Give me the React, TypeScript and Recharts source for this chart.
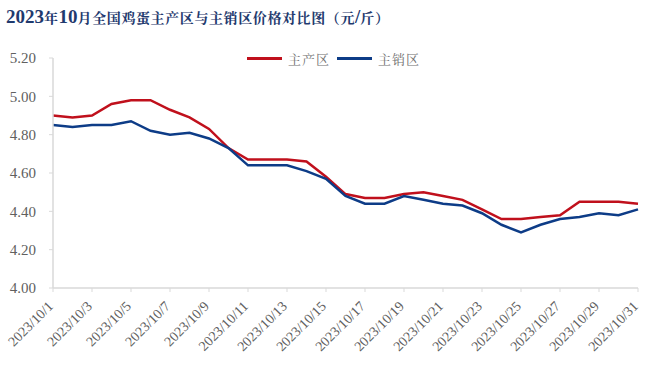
import { Line, LineChart, XAxis, YAxis } from "recharts";

const days = [
  "2023/10/1", "2023/10/2", "2023/10/3", "2023/10/4", "2023/10/5", "2023/10/6", "2023/10/7",
  "2023/10/8", "2023/10/9", "2023/10/10", "2023/10/11", "2023/10/12", "2023/10/13", "2023/10/14",
  "2023/10/15", "2023/10/16", "2023/10/17", "2023/10/18", "2023/10/19", "2023/10/20", "2023/10/21",
  "2023/10/22", "2023/10/23", "2023/10/24", "2023/10/25", "2023/10/26", "2023/10/27", "2023/10/28",
  "2023/10/29", "2023/10/30", "2023/10/31"
];

const producing = [
  4.9, 4.89, 4.9, 4.96, 4.98, 4.98, 4.93, 4.89, 4.83, 4.73, 4.67, 4.67, 4.67, 4.66, 4.58, 4.49,
  4.47, 4.47, 4.49, 4.5, 4.48, 4.46, 4.41, 4.36, 4.36, 4.37, 4.38, 4.45, 4.45, 4.45, 4.44
];

const selling = [
  4.85, 4.84, 4.85, 4.85, 4.87, 4.82, 4.8, 4.81, 4.78, 4.73, 4.64, 4.64, 4.64, 4.61, 4.57, 4.48,
  4.44, 4.44, 4.48, 4.46, 4.44, 4.43, 4.39, 4.33, 4.29, 4.33, 4.36, 4.37, 4.39, 4.38, 4.41
];

const yTicks = [4.0, 4.2, 4.4, 4.6, 4.8, 5.0, 5.2];

const data = days.map((d, i) => ({ date: d, 主产区: producing[i], 主销区: selling[i] }));

const RED = "#c0101c";
const BLUE = "#0d3c87";
const AXIS = "#d9d9d9";
const LABEL = "#606060";
const SERIF = "'Liberation Serif', 'Times New Roman', serif";
const CJK = "'Noto Serif CJK SC', 'Noto Sans CJK SC', serif";

function DateTick({ x, y, payload }: any) {
  return (
    <g transform={`translate(${x + 1},${y + 13})`}>
      <text textAnchor="end" transform="rotate(-45)" fill={LABEL} fontSize={14} fontFamily={SERIF}>
        {payload.value}
      </text>
    </g>
  );
}

const legendItems = [
  { name: "主产区", color: RED, left: 247 },
  { name: "主销区", color: BLUE, left: 337 }
];

export default function App() {
  const num = { fontFamily: SERIF, fontSize: 19, letterSpacing: 0 };
  return (
    <div style={{ position: "absolute", left: 0, top: 0, width: 660, height: 374, background: "#fff" }}>
      <div
        style={{
          position: "absolute",
          left: 6,
          top: 6,
          fontSize: 14,
          fontWeight: 700,
          letterSpacing: 0.6,
          color: "#1f3a6e",
          fontFamily: CJK,
          whiteSpace: "nowrap"
        }}
      >
        <span style={num}>2023</span>年<span style={num}>10</span>月全国鸡蛋主产区与主销区价格对比图（元<span style={num}>/</span>斤）
      </div>
      {legendItems.map((it) => (
        <div
          key={it.name}
          style={{ position: "absolute", left: it.left, top: 49, height: 18, display: "flex", alignItems: "center" }}
        >
          <span style={{ display: "inline-block", width: 35, height: 3, background: it.color }} />
          <span
            style={{ marginLeft: 6, fontSize: 13, color: "#707070", fontFamily: CJK, letterSpacing: 1 }}
          >
            {it.name}
          </span>
        </div>
      ))}
      <LineChart
        width={660}
        height={374}
        data={data}
        margin={{ top: 58, right: 22, bottom: 0, left: 0 }}
      >
        <XAxis
          dataKey="date"
          interval={1}
          height={86}
          axisLine={{ stroke: AXIS, strokeWidth: 1.5 }}
          tickLine={{ stroke: AXIS }}
          tickSize={4}
          tick={<DateTick />}
        />
        <YAxis
          width={53}
          domain={[4, 5.2]}
          ticks={yTicks}
          tickFormatter={(v: number) => v.toFixed(2)}
          axisLine={{ stroke: AXIS, strokeWidth: 1.5 }}
          tickLine={{ stroke: AXIS }}
          tickSize={4}
          tickMargin={13}
          tick={{ fill: LABEL, fontSize: 15, fontFamily: SERIF }}
        />
        <Line
          type="linear"
          dataKey="主产区"
          stroke={RED}
          strokeWidth={2.5}
          dot={false}
          isAnimationActive={false}
        />
        <Line
          type="linear"
          dataKey="主销区"
          stroke={BLUE}
          strokeWidth={2.5}
          dot={false}
          isAnimationActive={false}
        />
      </LineChart>
    </div>
  );
}
